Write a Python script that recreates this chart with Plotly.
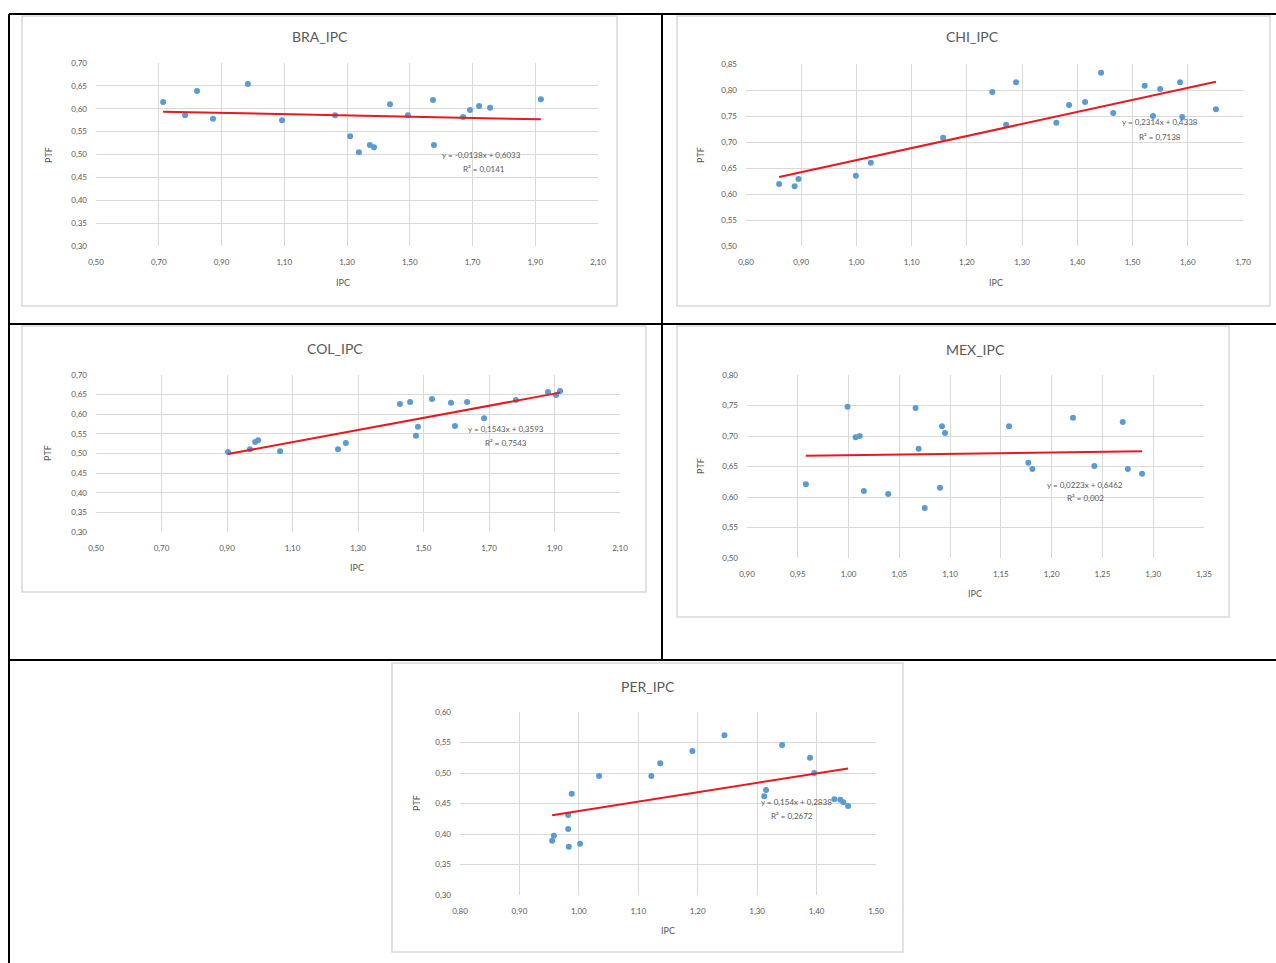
import plotly.graph_objects as go

W, H = 1276, 963

# ---------------- data ----------------
bra_ipc = [0.714, 0.784, 0.822, 0.873, 0.984, 1.093, 1.262, 1.310, 1.338, 1.373,
           1.386, 1.437, 1.494, 1.574, 1.577, 1.670, 1.692, 1.721, 1.756, 1.918]
bra_ptf = [0.615, 0.586, 0.639, 0.578, 0.654, 0.575, 0.586, 0.540, 0.505, 0.521,
           0.516, 0.610, 0.586, 0.619, 0.521, 0.582, 0.597, 0.606, 0.602, 0.621]
bra_trend = [-0.0138, 0.6033]

chi_ipc = [0.860, 0.888, 0.895, 0.999, 1.026, 1.157, 1.246, 1.271, 1.289, 1.362,
           1.385, 1.414, 1.443, 1.465, 1.522, 1.537, 1.550, 1.586, 1.590, 1.651]
chi_ptf = [0.619, 0.615, 0.629, 0.635, 0.660, 0.708, 0.796, 0.733, 0.815, 0.737,
           0.771, 0.777, 0.833, 0.756, 0.808, 0.750, 0.802, 0.815, 0.748, 0.763]
chi_trend = [0.2314, 0.4338]

col_ipc = [0.903, 0.970, 0.986, 0.995, 1.062, 1.239, 1.263, 1.428, 1.459, 1.477,
           1.483, 1.526, 1.584, 1.596, 1.633, 1.685, 1.782, 1.880, 1.905, 1.917]
col_ptf = [0.504, 0.511, 0.529, 0.534, 0.506, 0.511, 0.527, 0.626, 0.631, 0.545,
           0.568, 0.639, 0.629, 0.570, 0.631, 0.590, 0.636, 0.657, 0.649, 0.659]
col_trend = [0.1543, 0.3593]

mex_ipc = [0.958, 0.999, 1.007, 1.011, 1.015, 1.039, 1.066, 1.069, 1.075, 1.090,
           1.092, 1.095, 1.158, 1.177, 1.181, 1.221, 1.242, 1.270, 1.275, 1.289]
mex_ptf = [0.621, 0.748, 0.698, 0.700, 0.610, 0.605, 0.746, 0.679, 0.582, 0.615,
           0.716, 0.705, 0.716, 0.656, 0.646, 0.730, 0.651, 0.723, 0.646, 0.638]
mex_trend = [0.0223, 0.6462]

per_ipc = [0.955, 0.958, 0.982, 0.982, 0.983, 0.988, 1.002, 1.034, 1.122, 1.137,
           1.191, 1.245, 1.312, 1.315, 1.342, 1.389, 1.396, 1.430, 1.440, 1.445, 1.453]
per_ptf = [0.389, 0.397, 0.431, 0.408, 0.379, 0.466, 0.384, 0.495, 0.495, 0.516,
           0.536, 0.562, 0.462, 0.472, 0.546, 0.525, 0.500, 0.457, 0.456, 0.452, 0.446]
per_trend = [0.154, 0.2838]

titles = ["BRA_IPC", "CHI_IPC", "COL_IPC", "MEX_IPC", "PER_IPC"]
equations = ["y = -0,0138x + 0,6033", "y = 0,2314x + 0,4338", "y = 0,1543x + 0,3593",
             "y = 0,0223x + 0,6462", "y = 0,154x + 0,2838"]
r2_labels = ["R² = 0,0141", "R² = 0,7138", "R² = 0,7543", "R² = 0,002", "R² = 0,2672"]
x_ranges = [[0.50, 2.10], [0.80, 1.70], [0.50, 2.10], [0.90, 1.35], [0.80, 1.50]]
y_ranges = [[0.30, 0.70], [0.50, 0.85], [0.30, 0.70], [0.50, 0.80], [0.30, 0.60]]
x_dticks = [0.2, 0.1, 0.2, 0.05, 0.1]

series = [(bra_ipc, bra_ptf, bra_trend), (chi_ipc, chi_ptf, chi_trend),
          (col_ipc, col_ptf, col_trend), (mex_ipc, mex_ptf, mex_trend),
          (per_ipc, per_ptf, per_trend)]

# ---------------- layout geometry (pixels) ----------------
plot_px = [(96, 598, 63, 246), (746, 1243, 64, 246), (96, 620, 375, 532),
           (747, 1204, 375, 558), (460, 876, 712, 895)]
box_px = [(22, 617, 16, 306), (677, 1270, 16, 306), (22, 646, 326, 592),
          (677, 1229, 326, 617), (392, 903, 663, 952)]
title_px = [(320, 37), (973, 37), (335, 348), (975, 349), (648, 686)]
xtitle_px = [(343, 282), (996, 282), (357, 567), (975, 593), (668, 930)]
ytitle_px = [(48, 155), (700, 155), (48, 453), (700, 466), (416, 803)]
eq_px = [(482, 155), (1160, 122), (506, 429), (1085, 485), (796, 802)]
r2_px = [(484, 169), (1160, 137), (506, 443), (1085, 498), (792, 816)]


def fx(px):
    return px / W


def fy(py):
    return 1 - py / H


GRAY = "#595959"
FONT = "Lato"

fig = go.Figure()
shapes = []
annotations = []


def label(text, pos, size, angle=0):
    return dict(text=text, x=fx(pos[0]), y=fy(pos[1]), xref="paper", yref="paper",
                xanchor="center", yanchor="middle", showarrow=False, textangle=angle,
                font=dict(family=FONT, size=size, color=GRAY))


for i, ((xs, ys, tr), title) in enumerate(zip(series, titles)):
    n = "" if i == 0 else str(i + 1)
    xa, ya = "x" + n, "y" + n
    fig.add_trace(go.Scatter(x=xs, y=ys, mode="markers", xaxis=xa, yaxis=ya,
                             marker=dict(color="#5B9BD5", size=6,
                                         line=dict(width=0)),
                             showlegend=False, hoverinfo="x+y"))
    x0, x1 = min(xs), max(xs)
    fig.add_trace(go.Scatter(x=[x0, x1], y=[tr[0] * x0 + tr[1], tr[0] * x1 + tr[1]],
                             mode="lines", xaxis=xa, yaxis=ya,
                             line=dict(color="#E8191F", width=2),
                             showlegend=False, hoverinfo="skip"))
    l, r, t, b = plot_px[i]
    common = dict(showgrid=True, gridcolor="#D9D9D9", gridwidth=1, zeroline=False,
                  showline=False, ticks="", ticklen=0, tickformat=".2f",
                  automargin=False,
                  tickfont=dict(family=FONT, size=8, color=GRAY))
    fig.layout["xaxis" + n] = dict(
        domain=[fx(l), fx(r)], range=x_ranges[i], anchor=ya,
        dtick=x_dticks[i], tick0=x_ranges[i][0], ticklabelstandoff=10, **common)
    fig.layout["yaxis" + n] = dict(
        domain=[fy(b), fy(t)], range=y_ranges[i], anchor=xa,
        dtick=0.05, tick0=y_ranges[i][0], ticklabelstandoff=8, **common)
    bl, br, bt, bb = box_px[i]
    shapes.append(dict(type="rect", xref="paper", yref="paper",
                       x0=fx(bl), x1=fx(br), y0=fy(bb), y1=fy(bt),
                       line=dict(color="#D9D9D9", width=1.5), layer="below"))
    annotations.append(label(title, title_px[i], 14))
    annotations.append(label("IPC", xtitle_px[i], 9))
    annotations.append(label("PTF", ytitle_px[i], 9, -90))
    annotations.append(label(equations[i], eq_px[i], 8))
    annotations.append(label(r2_labels[i], r2_px[i], 8))

# table borders
black = dict(color="black", width=2)
for (x0, y0, x1, y1) in [(9, 14, 1276, 14), (9, 14, 9, 963), (662, 14, 662, 660),
                         (9, 324, 1276, 324), (9, 660, 1276, 660)]:
    shapes.append(dict(type="line", xref="paper", yref="paper",
                       x0=fx(x0), y0=fy(y0), x1=fx(x1), y1=fy(y1), line=black))

fig.update_layout(width=W, height=H, margin=dict(l=0, r=0, t=0, b=0, pad=0),
                  autosize=False,
                  paper_bgcolor="white", plot_bgcolor="white",
                  separators=",.", shapes=shapes, annotations=annotations,
                  showlegend=False,
                  font=dict(family=FONT, color=GRAY))

fig.write_html("out.html",
               config={"displayModeBar": False},
               post_script="document.body.style.margin='0';"
                           "document.body.style.overflow='hidden';")
